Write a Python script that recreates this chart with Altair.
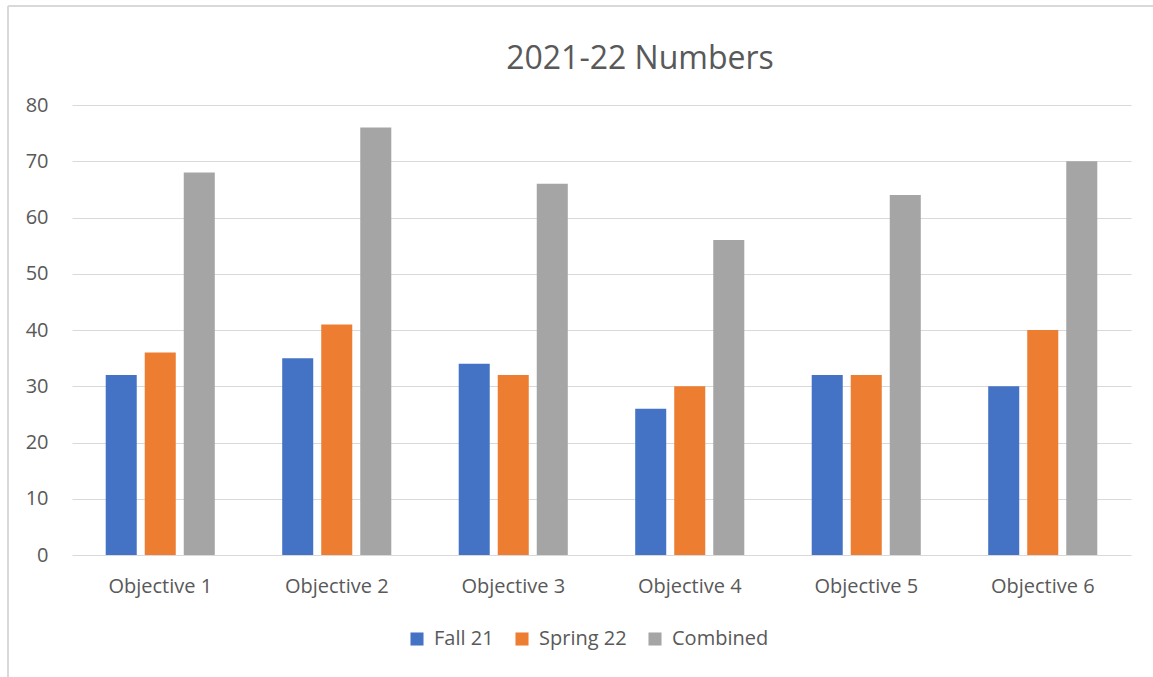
import altair as alt
import pandas as pd

# Values per objective for each term
objectives = ["Objective 1", "Objective 2", "Objective 3", "Objective 4", "Objective 5", "Objective 6"]
fall_21 = [32, 35, 34, 26, 32, 30]
spring_22 = [36, 41, 32, 30, 32, 40]
combined = [68, 76, 66, 56, 64, 70]

series_names = ["Fall 21", "Spring 22", "Combined"]
series_colors = ["#4472C4", "#ED7D31", "#A5A5A5"]
y_ticks = [0, 10, 20, 30, 40, 50, 60, 70, 80]
chart_title = "2021-22 Numbers"

rows = []
for name, values in zip(series_names, [fall_21, spring_22, combined]):
    for obj, v in zip(objectives, values):
        rows.append({"Objective": obj, "Series": name, "Value": v})
df = pd.DataFrame(rows)

FONT = "Open Sans"
TEXT = "#595959"
GRID = "#D9D9D9"
LABEL_SIZE = 20

bars = alt.Chart(df).mark_bar().encode(
    x=alt.X(
        "Objective:N",
        sort=objectives,
        scale=alt.Scale(paddingInner=0.382, paddingOuter=0.191),
        axis=alt.Axis(
            title=None, labelAngle=0, ticks=False, domain=False,
            labelFontSize=LABEL_SIZE, labelColor=TEXT, labelFont=FONT, labelPadding=21,
        ),
    ),
    xOffset=alt.XOffset(
        "Series:N", sort=series_names,
        scale=alt.Scale(paddingInner=0.205, paddingOuter=0),
    ),
    y=alt.Y(
        "Value:Q",
        scale=alt.Scale(domain=[0, 80], nice=False),
        axis=alt.Axis(
            title=None, values=y_ticks, ticks=False, domain=False,
            gridColor=GRID, gridWidth=1.2,
            labelFontSize=LABEL_SIZE, labelColor=TEXT, labelFont=FONT, labelPadding=24,
        ),
    ),
    color=alt.Color(
        "Series:N",
        sort=series_names,
        scale=alt.Scale(domain=series_names, range=series_colors),
        legend=alt.Legend(
            title=None, orient="none", direction="horizontal",
            legendX=335, legendY=524,
            symbolType="square", symbolSize=170, symbolStrokeWidth=0,
            labelFontSize=LABEL_SIZE, labelColor=TEXT, labelFont=FONT,
            columnPadding=18, labelOffset=7,
        ),
    ),
)

one_row = pd.DataFrame({"k": [0]})

# Chart heading drawn as a text mark above the plot area
heading = alt.Chart(one_row).mark_text(
    font=FONT, fontSize=32, color=TEXT, align="center", baseline="middle"
).encode(x=alt.value(568), y=alt.value(-46), text=alt.value(chart_title))

# Outer chart frame along the top and left edges
frame_left = alt.Chart(one_row).mark_rule(color=GRID, strokeWidth=2).encode(
    x=alt.value(-64), y=alt.value(-99), y2=alt.value(600)
)
frame_top = alt.Chart(one_row).mark_rule(color=GRID, strokeWidth=2).encode(
    x=alt.value(-64), x2=alt.value(1100), y=alt.value(-99)
)

chart = alt.layer(bars, heading, frame_left, frame_top).properties(
    width=1059,
    height=450,
    autosize=alt.AutoSizeParams(type="none"),
    padding={"left": 72, "top": 105, "right": 22, "bottom": 122},
    background="white",
).configure_view(stroke=None)

chart.save("out.html", embed_options={"renderer": "svg", "actions": False})
